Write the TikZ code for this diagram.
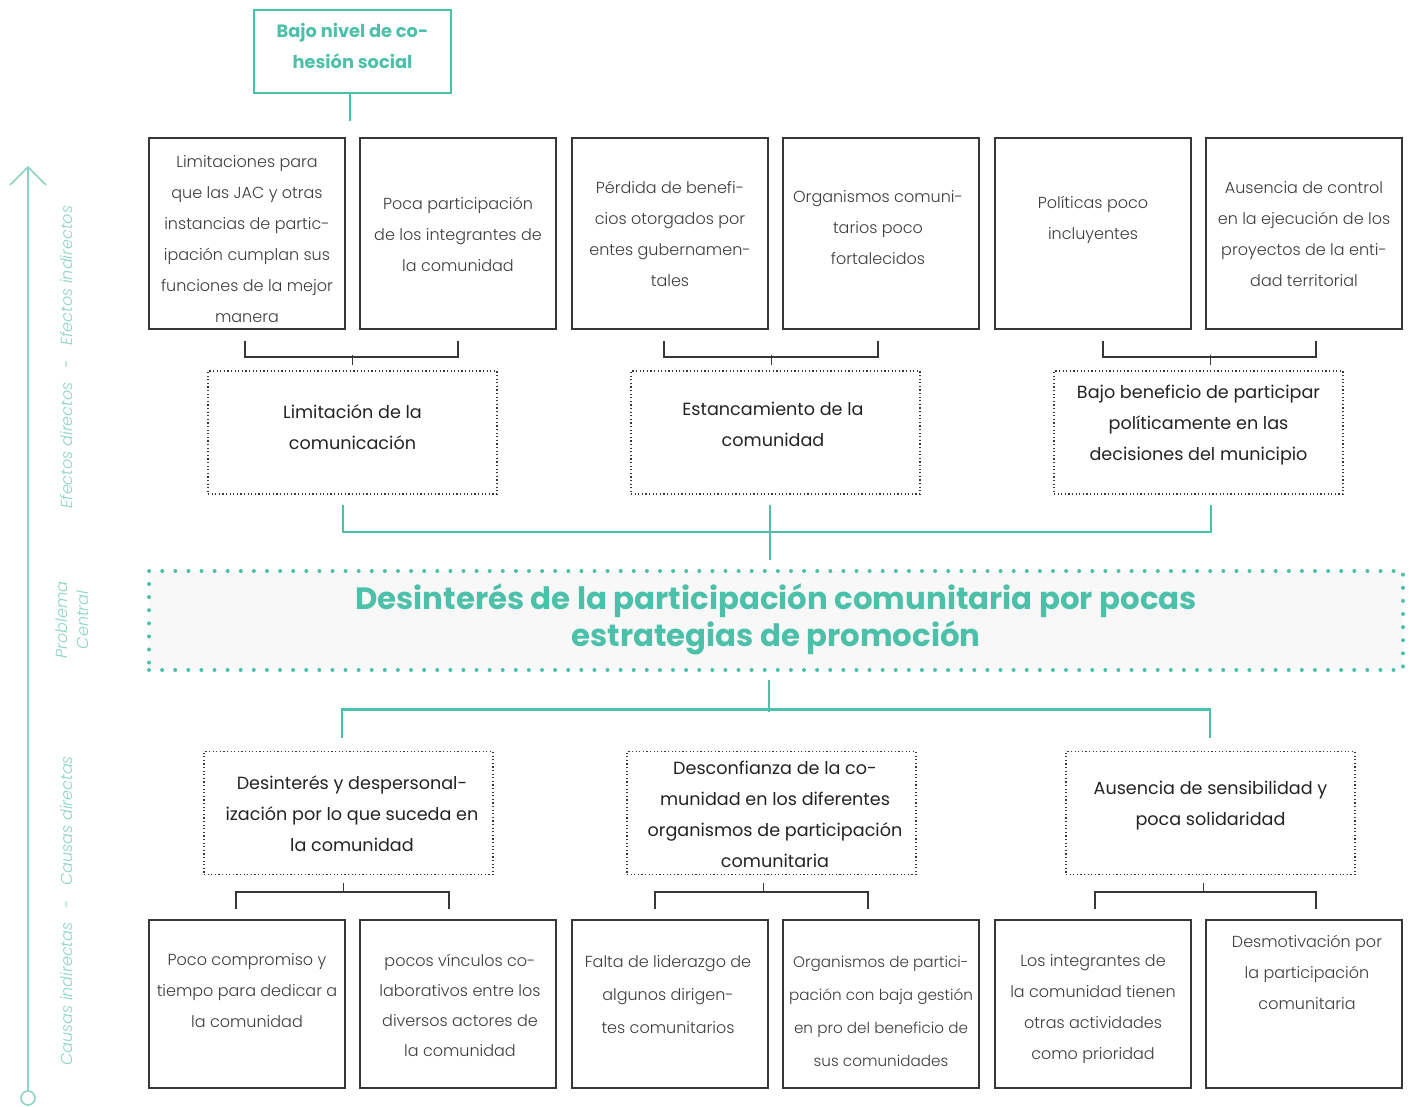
\documentclass[tikz,border=0pt]{standalone}
\usepackage{fontspec}
\IfFontExistsTF{Poppins Light}{\setmainfont{Poppins Light}[BoldFont=Poppins Bold,ItalicFont=Poppins Light Italic]}{\setmainfont{Poppins}}
\newfontfamily\regfont{Poppins}
\usetikzlibrary{calc}
\definecolor{teal1}{RGB}{77,192,170}
\definecolor{teallab}{RGB}{140,212,196}
\definecolor{boxline}{RGB}{55,55,55}
\definecolor{txtdark}{RGB}{35,35,35}
\definecolor{txtgray}{RGB}{60,60,60}
\definecolor{cfill}{RGB}{248,248,248}
\begin{document}
\begin{tikzpicture}[x=1pt,y=-1pt,
  sbox/.style={draw=boxline,line width=1.6pt,minimum width=196pt,inner sep=0pt},
  rowone/.style={sbox,minimum height=191pt},
  rowtwo/.style={sbox,minimum height=168pt},
  dbox/.style={draw=boxline,line width=1.7pt,dash pattern=on 1.2pt off 2.4pt,minimum width=289pt,minimum height=123pt,inner sep=0pt},
  stxt/.style={align=center,text=txtgray,font=\fontsize{16}{31}\selectfont,inner sep=0pt},
  dtxt/.style={align=center,text=txtdark,font=\regfont\fontsize{17.6}{31}\selectfont,inner sep=0pt},
  brk/.style={draw=boxline,line width=1.6pt},
  tline/.style={draw=teal1,line width=2.6pt},
  axlab/.style={rotate=90,text=teallab,font=\fontsize{16}{21}\selectfont\itshape,align=center,inner sep=0pt}
]
\useasboundingbox (0,0) rectangle (1411,1106);

% left axis
\coordinate (axbot) at (28,1091);
\coordinate (axtop) at (28,167);
\coordinate (axl) at (10,185);
\coordinate (axr) at (46,185);
\draw[draw=teallab,line width=1.6pt] (axbot) -- (axtop);
\draw[draw=teallab,line width=1.6pt] (axl) -- (axtop) -- (axr);
\node[circle,draw=teallab,line width=1.6pt,minimum size=14pt,inner sep=0pt] (axc) at (28,1098) {};
\node[axlab] (lab1) at (67,357) {Efectos directos\ \ \ -\ \ \ Efectos indirectos};
\node[axlab] (lab2) at (72,620) {Problema\\Central};
\node[axlab] (lab3) at (67,911) {Causas indirectas\ \ \ -\ \ \ Causas directas};

% top box
\node[draw=teal1,line width=2pt,minimum width=197pt,minimum height=83pt,inner sep=0pt] (top) at (352.5,51.5) {};
\node[align=center,text=teal1,font=\fontsize{17.8}{31}\bfseries\selectfont,inner sep=0pt] (topt) at (352.5,45.5) {Bajo nivel de co-\\hesión social};
\coordinate (topend) at (350,121);
\draw[tline,line width=2pt] (top.south -| topend) -- (topend);

% row 1 boxes (indirect effects)
\node[rowone] (ra) at (247,233.5) {};
\node[rowone] (rb) at (458,233.5) {};
\node[rowone] (rc) at (670,233.5) {};
\node[rowone] (rd) at (881,233.5) {};
\node[rowone] (re) at (1093,233.5) {};
\node[rowone] (rf) at (1304,233.5) {};
\node[stxt] (rat) at (247,239.5) {Limitaciones para\\que las JAC y otras\\instancias de partic-\\ipación cumplan sus\\funciones de la mejor\\manera};
\node[stxt] (rbt) at (458,234) {Poca participación\\de los integrantes de\\la comunidad};
\node[stxt] (rct) at (670,234) {Pérdida de benefi-\\cios otorgados por\\entes gubernamen-\\tales};
\node[stxt] (rdt) at (878,228) {Organismos comuni-\\tarios poco\\fortalecidos};
\node[stxt] (ret) at (1093,219.5) {Políticas poco\\incluyentes};
\node[stxt] (rft) at (1304,234) {Ausencia de control\\en la ejecución de los\\proyectos de la enti-\\dad territorial};

% direct effects
\node[dbox] (da) at (352.5,432.5) {};
\node[dbox] (db) at (775.5,432.5) {};
\node[dbox] (dc) at (1198.5,432.5) {};
\node[dtxt] (dat) at (352.5,427.5) {Limitación de la\\comunicación};
\node[dtxt] (dbt) at (773,424.5) {Estancamiento de la\\comunidad};
\node[dtxt] (dct) at (1198.5,425.5) {Bajo beneficio de participar\\políticamente en las\\decisiones del municipio};

% brackets row1 -> direct effects
\draw[brk] ($(ra.south)+(-2,11)$) -- ++(0,16) -| ($(rb.south)+(0,11)$);
\draw[brk,line width=1pt] ($(da.north)+(0,-5)$) -- ++(0,-10);
\draw[brk] ($(rc.south)+(-6,11)$) -- ++(0,16) -| ($(rd.south)+(-3,11)$);
\draw[brk,line width=1pt] ($(db.north)+(-4,-5)$) -- ++(0,-10);
\draw[brk] ($(re.south)+(10,11)$) -- ++(0,16) -| ($(rf.south)+(12,11)$);
\draw[brk,line width=1pt] ($(dc.north)+(12,-5)$) -- ++(0,-10);

% central problem
\node[draw=teal1,fill=cfill,line width=4pt,dash pattern=on 0pt off 13.1pt,line cap=round,minimum width=1254pt,minimum height=99pt,inner sep=0pt] (cp) at (776,620.5) {};
\node[align=center,text=teal1,font=\fontsize{30.8}{37}\bfseries\selectfont,inner sep=0pt] (cpt) at (776,619.5) {Desinterés de la participación comunitaria por pocas\\estrategias de promoción};

% teal bracket effects -> central
\draw[tline] ($(da.south)+(-9.5,10)$) -- ++(0,27) -| ($(dc.south)+(12.5,10)$);
\draw[tline] ($(db.south)+(-5.5,10)$) -- ($(cp.north)+(-6,-9)$);

% direct causes
\node[dbox] (ca) at (348.5,813) {};
\node[dbox] (cb) at (771.5,813) {};
\node[dbox] (cc) at (1210.5,813) {};
\node[dtxt] (cat) at (352,814) {Desinterés y despersonal-\\ización por lo que suceda en\\la comunidad};
\node[dtxt] (cbt) at (775,814) {Desconfianza de la co-\\munidad en los diferentes\\organismos de participación\\comunitaria};
\node[dtxt] (cct) at (1210.5,805.5) {Ausencia de sensibilidad y\\poca solidaridad};

% teal bracket central -> causes
\draw[tline] ($(cp.south)+(-7,8)$) -- ++(0,32);
\draw[tline] ($(ca.north)+(-6.5,-13)$) -- ++(0,-28) -| ($(cc.north)+(-0.5,-13)$);

% bottom boxes (indirect causes)
\node[rowtwo] (ba) at (247,1004) {};
\node[rowtwo] (bb) at (458,1004) {};
\node[rowtwo] (bc) at (670,1004) {};
\node[rowtwo] (bd) at (881,1004) {};
\node[rowtwo] (be) at (1093,1004) {};
\node[rowtwo] (bf) at (1304,1004) {};
\node[stxt] (bat) at (247,991) {Poco compromiso y\\tiempo para dedicar a\\la comunidad};
\node[stxt,font=\fontsize{16}{30}\selectfont] (bbt) at (460,1005) {pocos vínculos co-\\laborativos entre los\\diversos actores de\\la comunidad};
\node[stxt,font=\fontsize{16}{33}\selectfont] (bct) at (668,995) {Falta de liderazgo de\\algunos dirigen-\\tes comunitarios};
\node[stxt,font=\fontsize{15.2}{33}\selectfont] (bdt) at (881,1011.5) {Organismos de partici-\\pación con baja gestión\\en pro del beneficio de\\sus comunidades};
\node[stxt] (bet) at (1093,1009) {Los integrantes de\\la comunidad tienen\\otras actividades\\como prioridad};
\node[stxt] (bft) at (1307,972) {Desmotivación por\\la participación\\comunitaria};

% brackets causes -> bottom
\draw[brk,line width=1pt] ($(ca.south)+(-5.5,8)$) -- ++(0,10);
\draw[brk] ($(ba.north)+(-11,-10)$) -- ++(0,-17) -| ($(bb.north)+(-9,-10)$);
\draw[brk,line width=1pt] ($(cb.south)+(-8.5,8)$) -- ++(0,10);
\draw[brk] ($(bc.north)+(-15,-10)$) -- ++(0,-17) -| ($(bd.north)+(-13,-10)$);
\draw[brk,line width=1pt] ($(cc.south)+(-7.5,8)$) -- ++(0,10);
\draw[brk] ($(be.north)+(2,-10)$) -- ++(0,-17) -| ($(bf.north)+(12,-10)$);
\end{tikzpicture}
\end{document}
